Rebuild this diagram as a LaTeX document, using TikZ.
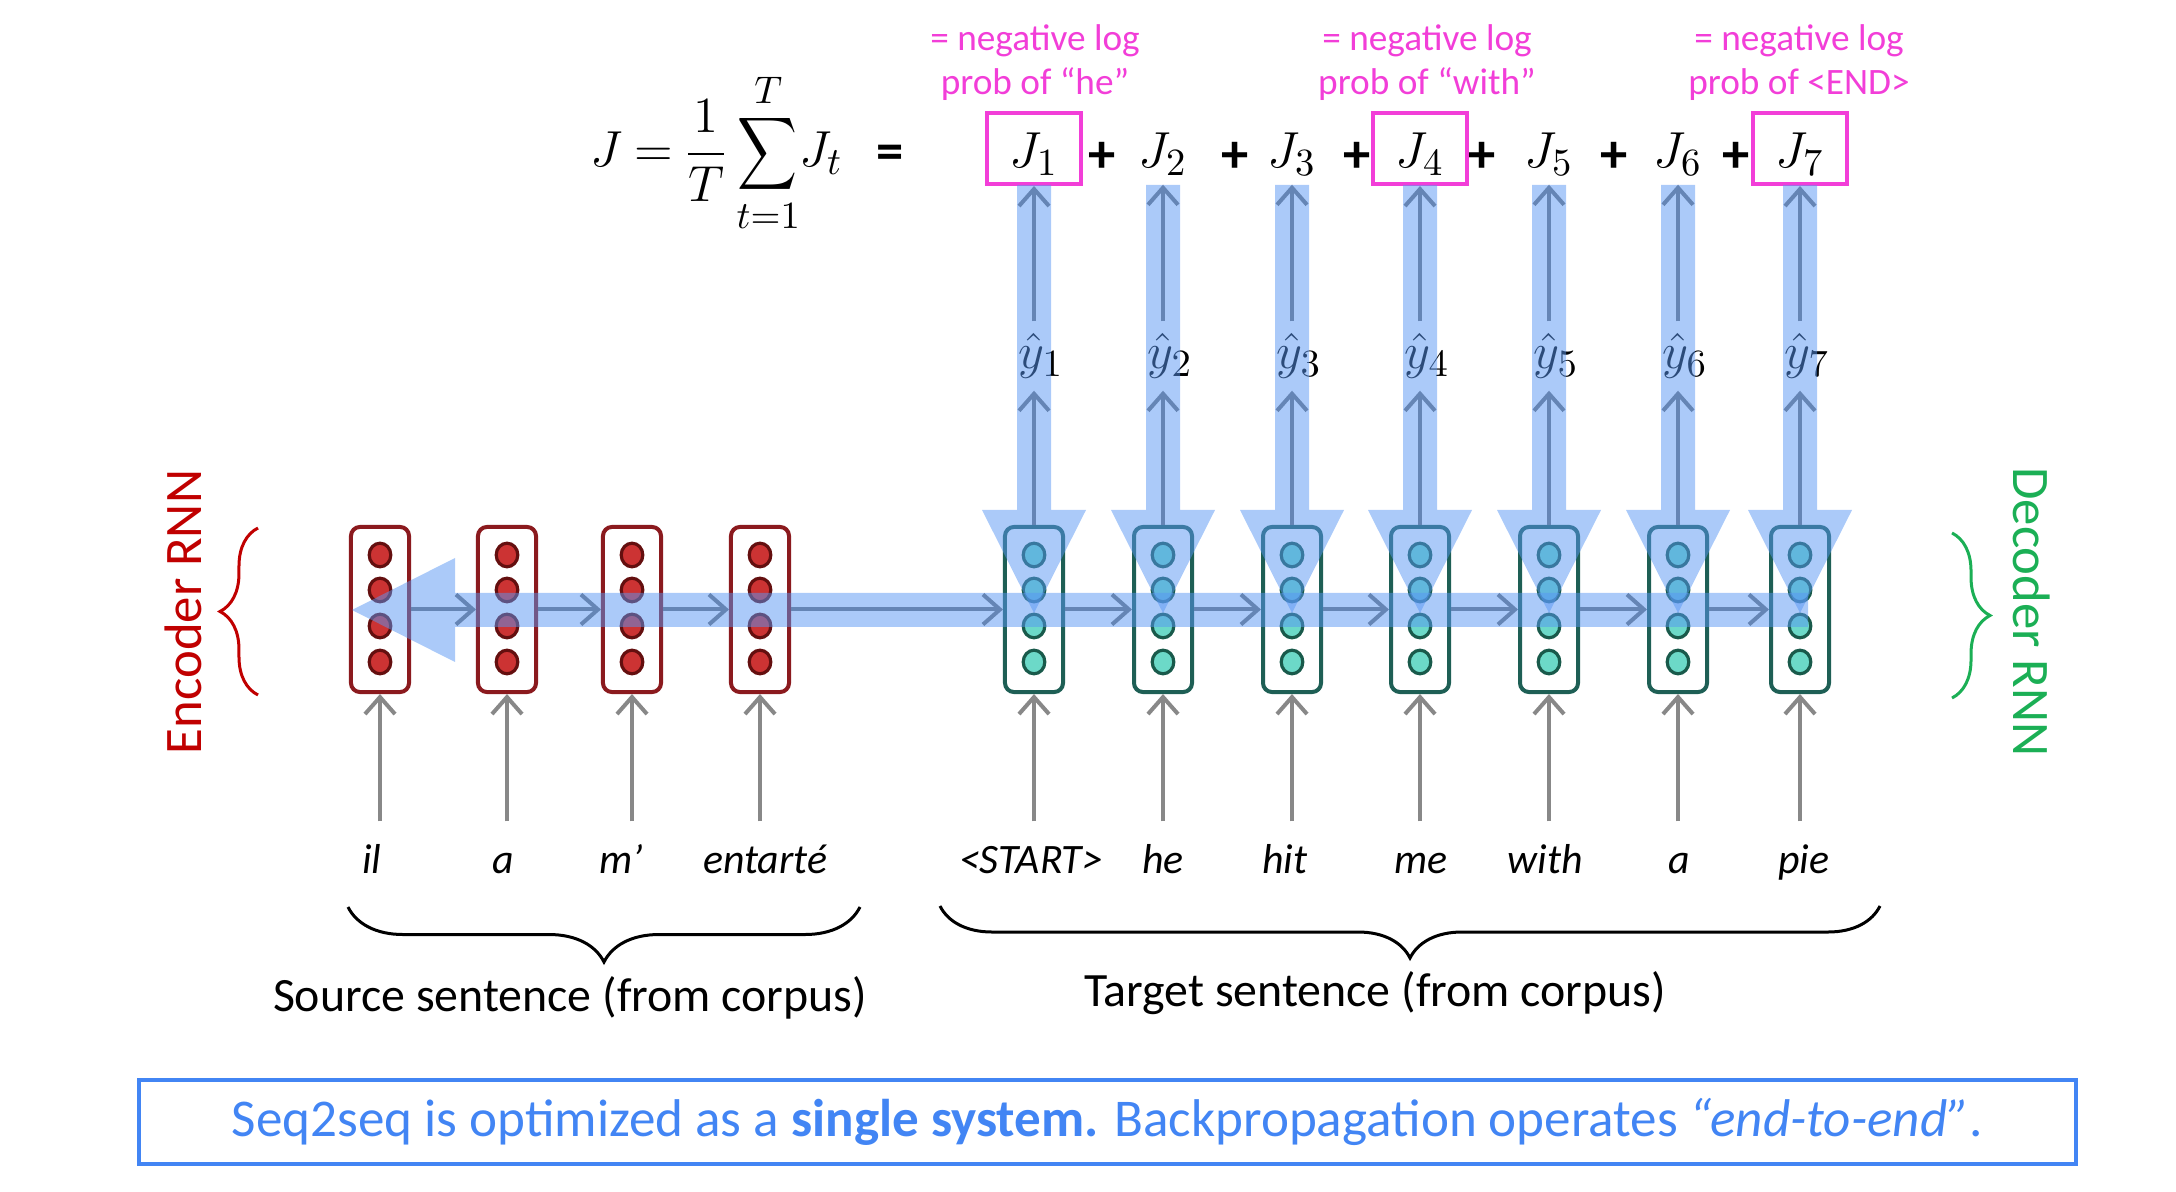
\documentclass[tikz,border=0pt]{standalone}
\usepackage{amsmath}
\usepackage{graphicx}
\usepackage{fontspec}
\setmainfont{Carlito}
\usetikzlibrary{arrows.meta,decorations.pathreplacing,calc}
\definecolor{encbox}{RGB}{139,26,30}
\definecolor{encfill}{RGB}{204,51,51}
\definecolor{encline}{RGB}{100,15,15}
\definecolor{decbox}{RGB}{30,95,85}
\definecolor{decfill}{RGB}{108,217,200}
\definecolor{decline}{RGB}{25,90,75}
\definecolor{bluefx}{RGB}{88,150,243}
\definecolor{thingray}{RGB}{115,116,119}
\definecolor{ingray}{RGB}{136,136,136}
\definecolor{pinkc}{RGB}{242,62,216}
\definecolor{encred}{RGB}{192,0,0}
\definecolor{decgreen}{RGB}{27,175,85}
\definecolor{boxblue}{RGB}{66,133,244}
\begin{document}
\begin{tikzpicture}[x=0.01cm,y=-0.01cm,
  cellenc/.style={draw=encbox,line width=0.04cm,rounded corners=0.09cm,minimum width=0.58cm,minimum height=1.65cm,inner sep=0},
  celldec/.style={draw=decbox,line width=0.04cm,rounded corners=0.09cm,minimum width=0.58cm,minimum height=1.65cm,inner sep=0},
  dotenc/.style={draw=encline,fill=encfill,line width=0.032cm},
  dotdec/.style={draw=decline,fill=decfill,line width=0.032cm},
  thinarrow/.style={draw=thingray,line width=0.04cm,-{Straight Barb[length=0.17cm,width=0.3cm]}},
  inarrow/.style={draw=ingray,line width=0.04cm,-{Straight Barb[length=0.17cm,width=0.3cm]}},
  bluelayer/.style={fill=bluefx,fill opacity=0.5},
  jnode/.style={minimum width=0.94cm,minimum height=0.71cm,inner sep=0,text height=0.46cm,text depth=0.08cm,font=\fontsize{15.5}{18}\selectfont},
  jbox/.style={jnode,draw=pinkc,line width=0.04cm},
  plussign/.style={inner sep=0,font=\fontsize{15.5}{18}\selectfont\bfseries},
  yhatnode/.style={minimum height=0.68cm,inner sep=0,font=\fontsize{15.5}{18}\selectfont},
  word/.style={font=\fontsize{11.9}{14}\selectfont\itshape,text height=0.3cm,text depth=0.08cm,minimum height=0.8cm,inner sep=0},
  pinktxt/.style={text=pinkc,align=center,inner sep=0,font=\fontsize{10.6}{12.5}\selectfont},
  sidetxt/.style={inner sep=0,font=\fontsize{15}{18}\selectfont},
  captxt/.style={inner sep=0,font=\fontsize{13.6}{16}\selectfont},
  bracestyle/.style={decorate,line width=0.03cm}
]
\useasboundingbox (0,0) rectangle (2176,1192);
% encoder cells
\foreach \i/\x in {1/380,2/507,3/632,4/760}{
  \node[cellenc] (e\i) at (\x,609.5) {};
  \foreach \dy in {555,590,626,662}
    \draw[dotenc] (\x,\dy) ellipse [x radius=0.108cm,y radius=0.118cm];
}
% decoder cells
\foreach \i/\x in {1/1034,2/1163,3/1292,4/1420,5/1549,6/1678,7/1800}{
  \node[celldec] (d\i) at (\x,609.5) {};
  \foreach \dy in {555,590,626,662}
    \draw[dotdec] (\x,\dy) ellipse [x radius=0.108cm,y radius=0.118cm];
}
% horizontal thin arrows
\draw[thinarrow] (e1) -- (e2);
\draw[thinarrow] (e2) -- (e3);
\draw[thinarrow] (e3) -- (e4);
\draw[thinarrow] (e4) -- (d1);
\draw[thinarrow] (d1) -- (d2);
\draw[thinarrow] (d2) -- (d3);
\draw[thinarrow] (d3) -- (d4);
\draw[thinarrow] (d4) -- (d5);
\draw[thinarrow] (d5) -- (d6);
\draw[thinarrow] (d6) -- (d7);
% loss terms
\node[anchor=base west,inner sep=0,font=\fontsize{15.5}{18}\selectfont] (Jfull) at (590,167)
  {$\thickmuskip=4mu\displaystyle J = \frac{1}{T}\mathop{\scalebox{0.82}[1]{$\displaystyle\sum$}}\limits_{t=1}^{T}\! J_t$};
\node[plussign] (eq) at (890,157) {=};
\node[jbox] (J1) at (1034,148.5) {$J_1$};
\node[jnode] (J2) at (1163,148.5) {$J_2$};
\node[jnode] (J3) at (1292,148.5) {$J_3$};
\node[jbox] (J4) at (1420,148.5) {$J_4$};
\node[jnode] (J5) at (1549,148.5) {$J_5$};
\node[jnode] (J6) at (1678,148.5) {$J_6$};
\node[jbox] (J7) at (1800,148.5) {$J_7$};
\node[plussign] (p1) at (1102,157) {+};
\node[plussign] (p2) at (1235,157) {+};
\node[plussign] (p3) at (1357,157) {+};
\node[plussign] (p4) at (1482,157) {+};
\node[plussign] (p5) at (1614,157) {+};
\node[plussign] (p6) at (1736,157) {+};
\node[pinktxt] (n1) at (1035,63) {= negative log\\prob of “he”};
\node[pinktxt] (n4) at (1427,63) {= negative log\\prob of “with”};
\node[pinktxt] (n7) at (1799,63) {= negative log\\prob of <END>};
% y hats and vertical thin arrows
\foreach \i in {1,...,7}{
  \node[yhatnode] (yh\i) at ($(d\i.north |- 0,356)+(7,0)$) {$\hat{y}_{\i}$};
  \draw[thinarrow] (d\i.north) -- (d\i.north |- yh\i.south);
  \draw[thinarrow] (d\i.north |- yh\i.north) -- (J\i.south);
}
% translucent blue backprop arrows
\fill[bluelayer] (1808,593) -- (455,593) -- (455,558) -- (352,610) -- (455,662) -- (455,627) -- (1808,627) -- cycle;
\foreach \x in {1034,1163,1292,1420,1549,1678,1800}{
  \fill[bluelayer] ({\x-17},185) -- ({\x+17},185) -- ({\x+17},510) -- ({\x+52},510) -- (\x,613) -- ({\x-52},510) -- ({\x-17},510) -- cycle;
}
% words
\node[word] (w1) at (372,862) {il};
\node[word] (w2) at (503,862) {a};
\node[word] (w3) at (621,862) {m’};
\node[word] (w4) at (765,862) {entarté};
\node[word] (w5) at (1031,862) {<START>};
\node[word] (w6) at (1163,862) {he};
\node[word] (w7) at (1285,862) {hit};
\node[word] (w8) at (1421,862) {me};
\node[word] (w9) at (1545,862) {with};
\node[word] (w10) at (1679,862) {a};
\node[word] (w11) at (1804,862) {pie};
\foreach \i in {1,...,4}{\draw[inarrow] (e\i.south |- w\i.north) -- (e\i.south);}
\foreach \i/\w in {1/5,2/6,3/7,4/8,5/9,6/10,7/11}{\draw[inarrow] (d\i.south |- w\w.north) -- (d\i.south);}
% braces
\draw[bracestyle,decoration={brace,amplitude=0.55cm}] (860,907) -- (348,907);
\draw[bracestyle,decoration={brace,amplitude=0.52cm}] (1880,906) -- (940,906);
\node[captxt] (src) at (570,998) {Source sentence (from corpus)};
\node[captxt] (tgt) at (1375,993) {Target sentence (from corpus)};
\draw[bracestyle,draw=encred,decoration={brace,amplitude=0.38cm}] (258,695) -- (258,528);
\node[sidetxt,rotate=90,text=encred] (enc) at (183,612) {Encoder RNN};
\draw[bracestyle,draw=decgreen,decoration={brace,amplitude=0.38cm}] (1952,533) -- (1952,698);
\node[sidetxt,rotate=-90,text=decgreen] (dec) at (2032,612) {Decoder RNN};
% bottom message
\node[draw=boxblue,line width=0.04cm,minimum width=19.35cm,minimum height=0.84cm,inner sep=0,text=boxblue,font=\fontsize{15.1}{18}\selectfont] (msg) at (1107.5,1122) {Seq2seq is optimized as a \textbf{single system.} Backpropagation operates \textit{“end-to-end”}.};
\end{tikzpicture}
\end{document}
